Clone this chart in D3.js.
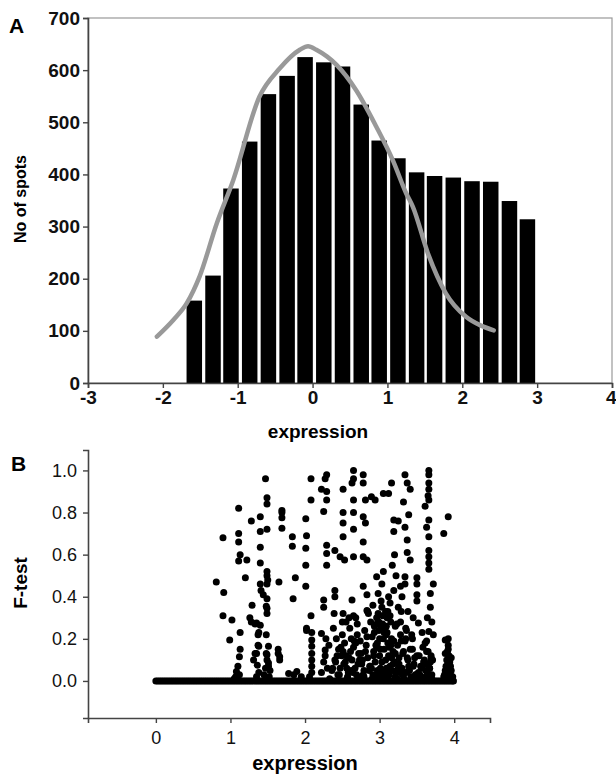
<!DOCTYPE html>
<html><head><meta charset="utf-8">
<script src="https://cdn.jsdelivr.net/npm/d3@7"></script>
<style>
body{margin:0;background:#fff;}
svg{display:block;font-family:"Liberation Sans",Arial,sans-serif;}
</style></head>
<body><svg id="c" width="616" height="776"></svg>
<script>
// ---------- Panel A data ----------
const binCenters = [-1.58,-1.33,-1.09,-0.84,-0.59,-0.34,-0.10,0.15,0.40,0.65,0.89,1.14,1.39,1.63,1.88,2.13,2.38,2.63,2.87];
const binCounts  = [158,206,373,463,554,589,625,615,607,534,465,431,404,397,394,387,386,349,314];
const binWidth = 0.247;
const fitX = [-2.08,-1.86,-1.68,-1.51,-1.28,-1.06,-0.71,-0.44,-0.17,-0.06,0.05,0.32,0.58,0.85,1.07,1.25,1.34,1.54,1.78,2.05,2.25,2.42];
const fitY = [89,121,153,204,306,389,549,603,639,646,639,610,562,492,428,364,338,249,172,127,110,101];
const aYTicks = [0,100,200,300,400,500,600,700];
const aXTicks = [-3,-2,-1,0,1,2,3,4];

// ---------- Panel B data ----------
const zeroX = [0.00,0.025,0.05,0.075,0.10,0.125,0.15,0.175,0.20,0.225,0.25,0.275,0.30,0.325,0.35,0.375,0.40,0.425,0.45,0.475,0.50,0.525,0.55,0.575,0.60,0.625,0.65,0.675,0.70,0.725,0.75,0.775,0.80,0.825,0.85,0.875,0.90,0.925,0.95,0.975,
 1.00,1.025,1.05,1.075,1.10,1.125,1.15,1.175,1.20,1.225,1.25,1.275,1.30,1.325,1.35,1.375,1.40,1.425,1.45,1.475,1.50,1.525,1.55,1.575,1.60,1.625,1.65,1.675,1.70,1.725,1.75,1.775,1.80,1.825,1.85,1.875,1.90,1.925,1.95,1.975,
 2.00,2.025,2.05,2.075,2.10,2.125,2.15,2.175,2.20,2.225,2.25,2.275,2.30,2.325,2.35,2.375,2.40,2.425,2.45,2.475,2.50,2.525,2.55,2.575,2.60,2.625,2.65,2.675,2.70,2.725,2.75,2.775,2.80,2.825,2.85,2.875,2.90,2.925,2.95,2.975,
 3.00,3.025,3.05,3.075,3.10,3.125,3.15,3.175,3.20,3.225,3.25,3.275,3.30,3.325,3.35,3.375,3.40,3.425,3.45,3.475,3.50,3.525,3.55,3.575,3.60,3.625,3.65,3.675,3.70,3.725,3.75,3.775,3.80,3.825,3.85,3.875,3.90,3.925,3.95,3.975,3.99];
const fX = [
 1.07,1.08,1.10,1.12,1.13,1.13,0.99,1.02,0.90,1.05,1.12,
 0.81,0.91,0.90,1.11,1.11,1.11,1.13,1.11,1.22,1.20,1.28,1.29,
 1.40,1.40,1.40,1.40,1.40,1.41,1.44,1.49,1.47,1.49,1.49,1.49,1.49,1.49,1.50,1.49,1.49,1.49,1.48,
 1.26,1.33,1.40,1.38,1.48,1.38,1.51,1.33,1.48,1.31,1.49,1.51,1.36,1.37,1.28,1.35,1.37,1.35,1.49,1.51,1.53,1.45,1.38,1.47,1.52,1.35,
 1.69,1.69,1.69,1.69,1.65,1.83,1.83,1.87,1.84,1.64,1.66,1.66,1.64,1.89,1.78,1.85,1.95,
 2.01,2.02,2.01,2.01,2.01,2.08,2.08,2.08,2.02,2.09,2.09,2.09,2.09,2.09,2.09,2.09,2.02,2.06,
 2.27,2.29,2.22,2.29,2.29,2.25,2.29,2.29,2.29,2.25,2.25,2.22,2.27,2.27,2.25,2.30,2.22,2.28,2.32,
 2.65,2.65,2.63,2.51,2.78,2.78,2.89,2.81,2.94,3.05,2.65,2.51,2.65,2.78,2.81,2.51,2.65,2.51,2.78,2.40,2.47,2.53,2.65,2.78,2.83,2.96,3.03,2.98,2.78,2.40,2.40,2.63,2.83,3.16,3.19,3.19,3.19,3.12,2.51,2.65,2.83,3.14,
 2.38,2.42,2.45,2.40,2.47,2.50,2.53,2.55,2.52,2.58,2.60,2.62,2.65,2.63,2.67,2.70,2.72,2.74,2.76,2.78,2.80,2.82,2.84,2.86,2.88,2.90,2.92,2.94,2.96,2.97,2.99,3.00,3.01,3.03,3.04,3.05,3.06,3.08,3.07,3.10,3.11,3.12,3.14,3.15,3.16,3.18,3.20,3.22,3.24,3.26,3.28,3.30,3.32,3.35,3.38,3.40,3.44,3.46,3.50,3.52,3.55,3.58,3.60,3.62,3.65,3.68,3.70,
 2.44,2.49,2.57,2.61,2.69,2.73,2.79,2.87,2.91,2.95,3.02,3.06,3.09,3.13,3.17,3.21,3.27,3.31,3.36,3.42,3.48,3.56,3.63,3.67,2.55,2.68,2.85,2.99,3.04,3.09,3.11,3.15,2.93,2.97,3.00,
 3.05,3.08,3.10,3.12,3.02,2.98,3.17,3.20,3.22,3.25,3.28,3.30,
 3.34,3.37,3.41,3.32,3.39,3.34,3.25,3.37,3.37,3.41,3.34,3.34,3.50,3.50,3.50,3.50,3.52,3.45,3.38,3.35,3.28,3.43,
 3.66,3.66,3.66,3.66,3.65,3.66,3.61,3.66,3.63,3.66,3.66,3.66,3.66,3.66,3.72,3.68,3.68,3.66,3.63,3.70,3.64,3.72,3.69,3.62,
 3.92,3.86,3.88,
 3.92,3.92,3.91,3.93,3.90,3.94,3.89,3.95,3.88,3.92,3.96,3.87,3.91,3.95,3.98,3.86,3.90,3.94,3.88,3.92,3.90,3.96,
 2.36,2.41,2.46,2.51,2.56,2.59,2.64,2.68,2.71,2.75,2.79,2.83,2.87,2.92,2.95,2.99,3.03,3.06,3.10,3.13,3.18,3.21,3.25,3.29,3.33,3.37,3.41,3.45,3.49,3.53,3.57,3.61,3.64,3.69,
 2.43,2.48,2.54,2.62,2.66,2.71,2.77,2.81,2.89,2.93,2.97,3.01,3.07,3.12,3.16,3.19,3.23,3.26,3.31,3.34,3.39,3.47,3.54,3.59,3.67,3.71,
 2.39,2.50,2.59,2.70,2.84,2.91,2.96,3.02,3.09,3.14,3.21,3.29,3.36,3.44,3.57,3.63,
 2.33,2.37,2.57,2.74,2.90,3.00,3.08,3.24,3.33,3.48,3.55,3.70
];
const fY = [
 0.020,0.045,0.070,0.115,0.150,0.230,0.195,0.290,0.310,0.010,0.030,
 0.470,0.420,0.680,0.820,0.700,0.660,0.600,0.570,0.575,0.490,0.760,0.360,
 0.780,0.710,0.635,0.560,0.460,0.430,0.410,0.390,0.960,0.870,0.840,0.720,0.520,0.500,0.480,0.460,0.345,0.320,0.355,
 0.300,0.270,0.265,0.230,0.220,0.165,0.165,0.130,0.130,0.100,0.100,0.070,0.075,0.220,0.280,0.275,0.170,0.130,0.125,0.085,0.050,0.030,0.040,0.060,0.020,0.020,
 0.810,0.800,0.775,0.725,0.470,0.685,0.640,0.490,0.390,0.150,0.115,0.100,0.130,0.045,0.035,0.030,0.020,
 0.770,0.690,0.630,0.550,0.450,0.960,0.860,0.310,0.240,0.230,0.195,0.165,0.130,0.100,0.070,0.040,0.250,0.020,
 0.960,0.980,0.910,0.900,0.860,0.805,0.645,0.605,0.550,0.385,0.350,0.225,0.147,0.120,0.090,0.060,0.040,0.200,0.170,
 1.000,0.960,0.940,0.910,0.980,0.940,0.875,0.860,0.860,0.890,0.860,0.800,0.800,0.780,0.750,0.750,0.720,0.685,0.660,0.620,0.590,0.575,0.590,0.590,0.575,0.495,0.460,0.415,0.450,0.430,0.400,0.385,0.410,0.940,0.765,0.710,0.430,0.890,0.320,0.310,0.335,0.370,
 0.250,0.200,0.150,0.100,0.060,0.220,0.180,0.120,0.080,0.040,0.250,0.200,0.160,0.100,0.060,0.220,0.130,0.190,0.080,0.030,0.240,0.170,0.110,0.050,0.280,0.210,0.140,0.090,0.300,0.180,0.240,0.120,0.060,0.350,0.270,0.200,0.150,0.100,0.040,0.230,0.180,0.120,0.070,0.280,0.200,0.140,0.090,0.040,0.170,0.110,0.220,0.060,0.140,0.200,0.100,0.050,0.150,0.080,0.120,0.040,0.070,0.160,0.100,0.050,0.140,0.090,0.030,
 0.030,0.120,0.020,0.140,0.030,0.100,0.020,0.070,0.030,0.020,0.030,0.020,0.060,0.030,0.050,0.020,0.040,0.030,0.040,0.020,0.030,0.020,0.020,0.060,0.280,0.300,0.320,0.280,0.310,0.260,0.330,0.170,0.230,0.160,0.200,
 0.520,0.330,0.300,0.400,0.380,0.320,0.550,0.600,0.500,0.350,0.450,0.400,
 0.980,0.940,0.910,0.850,0.790,0.730,0.760,0.670,0.610,0.575,0.495,0.460,0.490,0.460,0.410,0.380,0.275,0.300,0.330,0.250,0.280,0.220,
 1.000,0.980,0.940,0.910,0.880,0.860,0.830,0.765,0.730,0.685,0.620,0.590,0.560,0.530,0.460,0.415,0.350,0.235,0.190,0.280,0.300,0.220,0.120,0.080,
 0.780,0.700,0.195,
 0.200,0.170,0.140,0.120,0.100,0.090,0.070,0.070,0.050,0.050,0.050,0.030,0.030,0.030,0.020,0.020,0.015,0.015,0.130,0.150,0.060,0.110,
 0.050,0.090,0.030,0.140,0.060,0.110,0.040,0.180,0.080,0.130,0.050,0.210,0.070,0.120,0.170,0.040,0.090,0.230,0.050,0.160,0.080,0.130,0.060,0.190,0.040,0.110,0.150,0.070,0.030,0.120,0.060,0.180,0.040,0.110,
 0.120,0.160,0.090,0.050,0.190,0.020,0.100,0.140,0.060,0.260,0.050,0.150,0.250,0.030,0.110,0.190,0.270,0.080,0.130,0.190,0.070,0.110,0.030,0.090,0.060,0.100,
 0.320,0.280,0.300,0.270,0.330,0.360,0.270,0.250,0.220,0.310,0.260,0.330,0.240,0.200,0.230,0.140,
 0.010,0.060,0.010,0.010,0.010,0.010,0.020,0.010,0.010,0.010,0.010,0.010
];
const bYTicks = [0.0,0.2,0.4,0.6,0.8,1.0];
const bXTicks = [0,1,2,3,4];

// ---------- Drawing ----------
const svg = d3.select("#c");
const axisCol = "#444";
const FONT = "'Liberation Sans',Arial,sans-serif";

// Panel A
const xA = d3.scaleLinear().domain([-3,4]).range([88,612]);
const yA = d3.scaleLinear().domain([0,700]).range([383,18]);

svg.append("rect").attr("x",xA(-3)).attr("y",yA(700)).attr("width",xA(4)-xA(-3)).attr("height",yA(0)-yA(700))
  .attr("fill","none").attr("stroke","#999").attr("stroke-width",1.2);

const bars = binCenters.map((c,i)=>({c, v: binCounts[i]}));
svg.append("g").selectAll("rect").data(bars).join("rect")
  .attr("x", d=>xA(d.c-binWidth/2)+1.5)
  .attr("width", d=>xA(d.c+binWidth/2)-xA(d.c-binWidth/2)-3)
  .attr("y", d=>yA(d.v))
  .attr("height", d=>yA(0)-yA(d.v))
  .attr("fill","#000");

const fit = fitX.map((x,i)=>[x,fitY[i]]);
svg.append("path").datum(fit)
  .attr("d", d3.line().x(d=>xA(d[0])).y(d=>yA(d[1])).curve(d3.curveMonotoneX))
  .attr("fill","none").attr("stroke","#999").attr("stroke-width",4.5).attr("stroke-linecap","round");

const gAy = svg.append("g").attr("transform",`translate(${xA(-3)},0)`)
  .call(d3.axisLeft(yA).tickValues(aYTicks).tickFormat(d3.format("d")).tickSize(5).tickPadding(3));
const gAx = svg.append("g").attr("transform",`translate(0,${yA(0)})`)
  .call(d3.axisBottom(xA).tickValues(aXTicks).tickFormat(d=>d<0?"-"+Math.abs(d):d).tickSize(5).tickPadding(3));
[gAy,gAx].forEach(g=>{
  g.select(".domain").attr("stroke",axisCol).attr("stroke-width",1.6);
  g.selectAll(".tick line").attr("stroke",axisCol).attr("stroke-width",1.4);
  g.selectAll(".tick text").attr("fill","#111").style("font-size","19px").style("font-weight","bold")
   .style("font-family",FONT);
});
// keep the last x label inside the page edge
gAx.selectAll(".tick text").filter(d=>d===4).attr("text-anchor","end").attr("dx","4px");

svg.append("text").attr("x",9).attr("y",33).text("A").style("font-size","21px").style("font-weight","bold");
svg.append("text").attr("transform","translate(26,199) rotate(-90)").attr("text-anchor","middle")
  .text("No of spots").style("font-size","16px").style("font-weight","bold");
svg.append("text").attr("x",318).attr("y",438).attr("text-anchor","middle")
  .text("expression").style("font-size","19px").style("font-weight","bold");

// Panel B
const xB = d3.scaleLinear().domain([-0.91,4.48]).range([88,490]);
const yB = d3.scaleLinear().domain([-0.176,1.097]).range([718,450]);

const pts = fX.map((x,i)=>[x,fY[i]]).concat(zeroX.map(x=>[x,0]));
svg.append("g").selectAll("circle").data(pts).join("circle")
  .attr("cx",d=>xB(d[0])).attr("cy",d=>yB(d[1])).attr("r",3.5).attr("fill","#000");

const gBy = svg.append("g").attr("transform",`translate(${xB(-0.91)},0)`)
  .call(d3.axisLeft(yB).tickValues(bYTicks).tickFormat(d3.format(".1f")).tickSize(5).tickPadding(6));
const gBx = svg.append("g").attr("transform",`translate(0,${yB(-0.176)})`)
  .call(d3.axisBottom(xB).tickValues(bXTicks).tickFormat(d3.format("d")).tickSize(5).tickPadding(8));
[gBy,gBx].forEach(g=>{
  g.select(".domain").attr("stroke",axisCol).attr("stroke-width",1.6);
  g.selectAll(".tick line").attr("stroke",axisCol).attr("stroke-width",1.4);
  g.selectAll(".tick text").attr("fill","#111").style("font-size","18px").style("font-family",FONT);
});
svg.append("text").attr("x",11).attr("y",471).text("B").style("font-size","21px").style("font-weight","bold");
svg.append("text").attr("transform","translate(27,583) rotate(-90)").attr("text-anchor","middle")
  .text("F-test").style("font-size","19px").style("font-weight","bold");
svg.append("text").attr("x",305).attr("y",770).attr("text-anchor","middle")
  .text("expression").style("font-size","20px").style("font-weight","bold");
</script></body></html>
